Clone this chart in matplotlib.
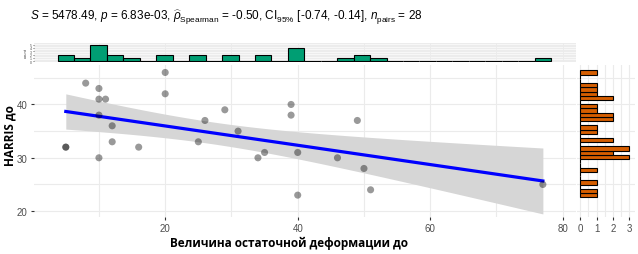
import numpy as np
import matplotlib

matplotlib.use("Agg")
import matplotlib.pyplot as plt
from matplotlib.ticker import MultipleLocator, FixedLocator

# data
deform = [5, 5, 8, 10, 10, 11, 10, 12, 12, 10, 16, 20, 20, 25, 26, 29, 31, 34,
          35, 39, 39, 40, 40, 46, 49, 50, 51, 77]
harris = [32, 32, 44, 43, 41, 41, 38, 36, 33, 30, 32, 46, 42, 33, 37, 39, 35, 30,
          31, 40, 38, 31, 23, 30, 37, 28, 24, 25]

title = (r"$\mathit{S}$ = 5478.49, $\mathit{p}$ = 6.83e-03, "
         r"$\widehat{\rho}_{\mathrm{Spearman}}$ = -0.50, CI$_{95\%}$ [-0.74, -0.14], "
         r"$\mathit{n}_{\mathrm{pairs}}$ = 28")
x_label = "Величина остаточной деформации до"
y_label = "HARRIS до"

GRID = "#EBEBEB"
TICKC = "#4D4D4D"

plt.rcParams["font.family"] = ["Liberation Sans", "DejaVu Sans"]
plt.rcParams["mathtext.fontset"] = "custom"
plt.rcParams["mathtext.rm"] = "Liberation Sans"
plt.rcParams["mathtext.it"] = "Liberation Sans:italic"


def centered_bins(v, n=30):
    # ggplot style: 30 bins, first bin centred on the minimum
    v = np.asarray(v, float)
    w = (v.max() - v.min()) / (n - 1)
    return v.min() - w / 2 + w * np.arange(n + 1)


x = np.asarray(deform, float)
y = np.asarray(harris, float)

# linear fit with 95% confidence band
slope, icpt = np.polyfit(x, y, 1)
xs = np.linspace(x.min(), x.max(), 80)
fit = icpt + slope * xs
resid = y - (icpt + slope * x)
n = len(x)
s = np.sqrt((resid ** 2).sum() / (n - 2))
se = s * np.sqrt(1 / n + (xs - x.mean()) ** 2 / ((x - x.mean()) ** 2).sum())
t95 = 2.0555  # t(0.975, df=26)

W, H = 638, 255
fig = plt.figure(figsize=(W / 100, H / 100), dpi=100)


def box(l, t, r, b):
    return [l / W, 1 - b / H, (r - l) / W, (b - t) / H]


ax = fig.add_axes(box(34, 66, 576, 218))
ax_top = fig.add_axes(box(34, 44, 576, 63))
ax_r = fig.add_axes(box(577, 66, 635, 218))

xlim = (0.2, 82.0)
ylim = (18.9, 47.4)

# main scatter
ax.fill_between(xs, fit - t95 * se, fit + t95 * se, color="#D6D6D6", lw=0, zorder=2)
ax.plot(xs, fit, color="blue", lw=2.3, zorder=3)
ax.scatter(x, y, s=26, color="black", alpha=0.4, edgecolors="none", zorder=4)
ax.set_xlim(xlim)
ax.set_ylim(ylim)
ax.xaxis.set_major_locator(FixedLocator([20, 40, 60, 80]))
ax.xaxis.set_minor_locator(MultipleLocator(10))
ax.yaxis.set_major_locator(FixedLocator([20, 30, 40]))
ax.yaxis.set_minor_locator(MultipleLocator(5))
ax.grid(True, which="both", color=GRID, lw=0.8, zorder=0)
ax.set_axisbelow(True)
ax.tick_params(which="major", length=2.5, width=0.8, color="#333333",
               labelsize=7, labelcolor=TICKC, pad=2)
ax.tick_params(which="minor", length=0)
for sp in ax.spines.values():
    sp.set_visible(False)

# top marginal histogram
ax_top.hist(x, bins=centered_bins(x), color="#009E73", edgecolor="black", lw=0.8, zorder=3)
ax_top.set_xlim(xlim)
ax_top.set_ylim(-0.25, 5.5)
ax_top.set_facecolor("#F7F7F7")
ax_top.xaxis.set_major_locator(MultipleLocator(10))
ax_top.yaxis.set_major_locator(MultipleLocator(1))
ax_top.yaxis.set_minor_locator(MultipleLocator(0.5))
ax_top.grid(True, which="both", color=GRID, lw=0.6, zorder=0)
ax_top.set_axisbelow(True)
ax_top.tick_params(axis="x", length=0, labelbottom=False)
ax_top.tick_params(axis="y", which="major", length=1, width=0.4, labelsize=2.5,
                   labelcolor=TICKC, pad=0.5)
ax_top.tick_params(which="minor", length=0)
ax_top.set_ylabel("count", fontsize=3, color="#333333", labelpad=1)
for sp in ax_top.spines.values():
    sp.set_visible(False)

# right marginal histogram
ax_r.hist(y, bins=centered_bins(y), orientation="horizontal", color="#D55E00",
          edgecolor="black", lw=0.8, zorder=3)
ax_r.set_ylim(ylim)
ax_r.set_xlim(-0.2, 3.35)
ax_r.xaxis.set_major_locator(FixedLocator([0, 1, 2, 3]))
ax_r.xaxis.set_minor_locator(MultipleLocator(0.5))
ax_r.yaxis.set_major_locator(MultipleLocator(5))
ax_r.grid(True, which="both", color=GRID, lw=0.8, zorder=0)
ax_r.set_axisbelow(True)
ax_r.tick_params(axis="x", which="major", length=2.5, width=0.8, color="#333333",
                 labelsize=7, labelcolor=TICKC, pad=2)
ax_r.tick_params(axis="y", length=0, labelleft=False)
ax_r.tick_params(which="minor", length=0)
for sp in ax_r.spines.values():
    sp.set_visible(False)

fig.text(30 / W, 1 - 17 / H, title, fontsize=8.5, va="center", ha="left")
fig.text(289 / W, 1 - 243 / H, x_label, fontsize=8.5, fontweight="bold",
         family=["Open Sans", "DejaVu Sans"], ha="center", va="center")
fig.text(10 / W, 1 - 136 / H, y_label, fontsize=8.5, fontweight="bold",
         family=["Open Sans", "DejaVu Sans"], ha="center", va="center", rotation=90)

fig.savefig("out.png", dpi=100)
